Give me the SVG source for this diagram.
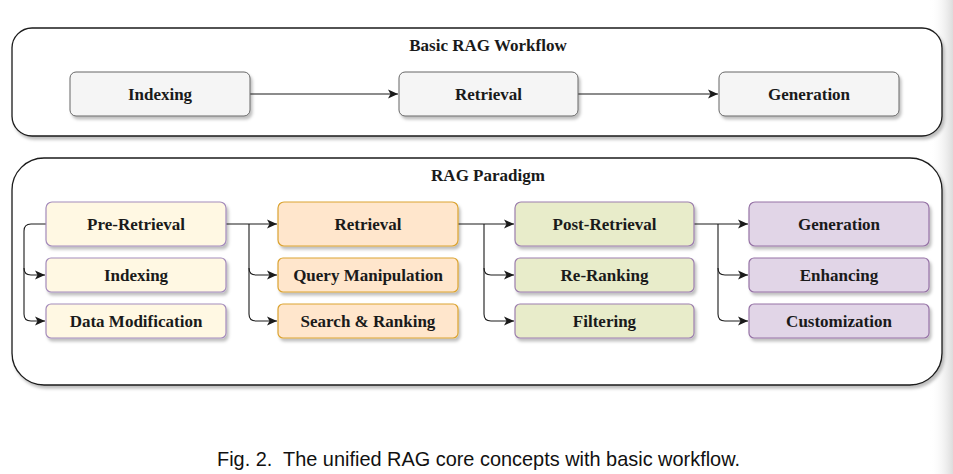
<svg xmlns="http://www.w3.org/2000/svg" width="953" height="474" viewBox="0 0 953 474">
<style>
.t{font-family:"Liberation Serif","Times New Roman",serif;font-weight:bold;font-size:17px;fill:#1a1a1a;text-anchor:middle}
.cont{fill:#fff;stroke:#1a1a1a;stroke-width:1.3}
.gray{fill:#f5f5f5;stroke:#666;stroke-width:1}
.pre{fill:#fff8e3;stroke:#a48bbb;stroke-width:1.2}
.ret{fill:#ffe6cc;stroke:#dba330;stroke-width:1.2}
.post{fill:#e8ecca;stroke:#9c7fad;stroke-width:1.2}
.gen{fill:#e1d5e7;stroke:#9673a6;stroke-width:1.2}
.c{fill:none;stroke:#1a1a1a;stroke-width:1.1}
.cap{font-family:"Liberation Sans",Arial,sans-serif;font-size:21px;fill:#111;white-space:pre}
</style>
<defs>
<filter id="sh" x="-10%" y="-20%" width="130%" height="160%">
<feDropShadow dx="2" dy="3" stdDeviation="1.5" flood-color="#000" flood-opacity="0.25"/>
</filter>
<marker id="ar" markerWidth="11" markerHeight="10" refX="10" refY="5" orient="auto" markerUnits="userSpaceOnUse">
<path d="M0,0.5 L10,5 L0,9.5 L2.5,5 z" fill="#1a1a1a"/>
</marker>
<linearGradient id="edge" x1="0" y1="0" x2="1" y2="0">
<stop offset="0" stop-color="#fff" stop-opacity="0"/>
<stop offset="1" stop-color="#dcdcdc"/>
</linearGradient>
</defs>
<rect x="0" y="0" width="953" height="474" fill="#fff"/>
<rect x="930" y="0" width="23" height="474" fill="url(#edge)"/>

<g id="basic-workflow">
<rect class="cont" x="12" y="28" width="930" height="108" rx="20" filter="url(#sh)"/>
<text class="t" x="488" y="51">Basic RAG Workflow</text>
</g>
<g id="rag-paradigm">
<rect class="cont" x="12" y="158" width="930" height="227" rx="32" filter="url(#sh)"/>
<text class="t" x="488" y="181">RAG Paradigm</text>
</g>

<g id="connectors">
<path class="c" d="M250,94 H398" marker-end="url(#ar)"/>
<path class="c" d="M578,94 H718" marker-end="url(#ar)"/>

<path class="c" d="M46,224 H31 Q24,224 24,231 V268 Q24,275 31,275 H45" marker-end="url(#ar)"/>
<path class="c" d="M24,268 V314 Q24,321 31,321 H45" marker-end="url(#ar)"/>

<path class="c" d="M226,224 H277" marker-end="url(#ar)"/>
<path class="c" d="M249,224 V268 Q249,275 256,275 H277" marker-end="url(#ar)"/>
<path class="c" d="M249,268 V314 Q249,321 256,321 H277" marker-end="url(#ar)"/>

<path class="c" d="M458,224 H514" marker-end="url(#ar)"/>
<path class="c" d="M484,224 V268 Q484,275 491,275 H514" marker-end="url(#ar)"/>
<path class="c" d="M484,268 V314 Q484,321 491,321 H514" marker-end="url(#ar)"/>

<path class="c" d="M694,224 H748" marker-end="url(#ar)"/>
<path class="c" d="M718,224 V268 Q718,275 725,275 H748" marker-end="url(#ar)"/>
<path class="c" d="M718,268 V314 Q718,321 725,321 H748" marker-end="url(#ar)"/>
</g>

<g id="top-indexing"><rect class="gray" x="70" y="72" width="180" height="44" rx="6" filter="url(#sh)"/><text class="t" x="160" y="100">Indexing</text></g>
<g id="top-retrieval"><rect class="gray" x="399" y="72" width="179" height="44" rx="6" filter="url(#sh)"/><text class="t" x="488.5" y="100">Retrieval</text></g>
<g id="top-generation"><rect class="gray" x="719" y="72" width="180" height="44" rx="6" filter="url(#sh)"/><text class="t" x="809" y="100">Generation</text></g>

<g id="pre-retrieval"><rect class="pre" x="46" y="202" width="180" height="44" rx="6" filter="url(#sh)"/><text class="t" x="136" y="230">Pre-Retrieval</text></g>
<g id="pre-indexing"><rect class="pre" x="46" y="258" width="180" height="34" rx="5" filter="url(#sh)"/><text class="t" x="136" y="281">Indexing</text></g>
<g id="pre-data-mod"><rect class="pre" x="46" y="304" width="180" height="34" rx="5" filter="url(#sh)"/><text class="t" x="136" y="327">Data Modification</text></g>

<g id="retrieval"><rect class="ret" x="278" y="202" width="180" height="44" rx="6" filter="url(#sh)"/><text class="t" x="368" y="230">Retrieval</text></g>
<g id="query-manip"><rect class="ret" x="278" y="258" width="180" height="34" rx="5" filter="url(#sh)"/><text class="t" x="368" y="281">Query Manipulation</text></g>
<g id="search-ranking"><rect class="ret" x="278" y="304" width="180" height="34" rx="5" filter="url(#sh)"/><text class="t" x="368" y="327">Search &amp; Ranking</text></g>

<g id="post-retrieval"><rect class="post" x="515" y="202" width="179" height="44" rx="6" filter="url(#sh)"/><text class="t" x="604.5" y="230">Post-Retrieval</text></g>
<g id="re-ranking"><rect class="post" x="515" y="258" width="179" height="34" rx="5" filter="url(#sh)"/><text class="t" x="604.5" y="281">Re-Ranking</text></g>
<g id="filtering"><rect class="post" x="515" y="304" width="179" height="34" rx="5" filter="url(#sh)"/><text class="t" x="604.5" y="327">Filtering</text></g>

<g id="generation"><rect class="gen" x="749" y="202" width="180" height="44" rx="6" filter="url(#sh)"/><text class="t" x="839" y="230">Generation</text></g>
<g id="enhancing"><rect class="gen" x="749" y="258" width="180" height="34" rx="5" filter="url(#sh)"/><text class="t" x="839" y="281">Enhancing</text></g>
<g id="customization"><rect class="gen" x="749" y="304" width="180" height="34" rx="5" filter="url(#sh)"/><text class="t" x="839" y="327">Customization</text></g>

<text class="cap" x="217" y="466" textLength="523" lengthAdjust="spacingAndGlyphs">Fig. 2.  The unified RAG core concepts with basic workflow.</text>
</svg>
